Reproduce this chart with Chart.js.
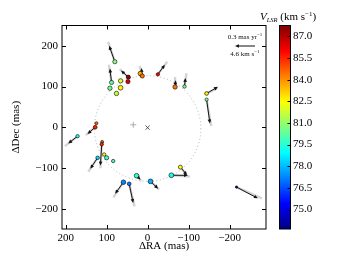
<!DOCTYPE html>
<html>
<head>
<meta charset="utf-8">
<script src="https://cdn.jsdelivr.net/npm/chart.js@4.4.1/dist/chart.umd.min.js"></script>
<style>
  html, body { margin: 0; padding: 0; background: #fff; }
  canvas { display: block; }
</style>
</head>
<body>
<canvas id="myChart" width="357" height="255"></canvas>
<script>
// maser spots: offsets (mas), VLSR (km/s), marker radius
const ra      = [80, 47, 48, 66, 66, 92, 88, 76, 18, 13, -25, -67, -90, -144, -144, 125, 128, 171, 111, 112, 106, 122, 100, 84, 27, 59, 45, -7, -58, -80, -217]
const dec     = [161, 123, 112, 114, 97, 96, 110, 83, 132, 126, 130, 99, 100, 83, 68, 10, 0, -22, -36, -42, -67, -75, -75, -83, -119, -135, -139, -133, -118, -98, -147]
const vlsr    = [80.8, 87.5, 86.3, 82.0, 82.6, 80.5, 80.2, 81.7, 83.6, 84.4, 86.0, 84.3, 80.5, 82.7, 80.6, 84.6, 85.6, 79.3, 84.8, 85.5, 82.6, 78.4, 79.8, 80.0, 79.6, 77.3, 77.1, 77.8, 79.2, 82.4, 74.0]
const spotSize = [2.1, 2.1, 2.1, 2.2, 2.4, 2.2, 2.1, 2.2, 2.2, 2.1, 1.7, 2.2, 1.7, 1.9, 1.6, 1.5, 1.9, 1.7, 1.5, 1.7, 1.7, 1.8, 2.1, 1.7, 2.3, 2.3, 1.9, 2.4, 2.4, 2.0, 1.2]

// measured proper motions (mas/yr), null = none
const pmRA  = [0.085, 0.11, null, null, null, null, 0.025, null, null, 0.015, -0.105, -0.01, -0.015, -0.17, -0.05, null, 0.115, 0.14, null, 0.02, null, 0.11, null, null, -0.06, 0.125, -0.06, -0.115, -0.25, -0.10, -0.32]
const pmDec = [0.24, 0.10, null, null, null, null, 0.21, null, null, 0.12, 0.145, 0.10, 0.13, 0.10, -0.36, null, -0.10, -0.11, null, -0.32, null, -0.165, null, null, -0.06, -0.175, -0.29, -0.11, 0.0, -0.12, -0.17]

// model motions (grey)
const modelRA  = [0.10, 0.13, null, null, null, null, 0.04, null, null, 0.04, -0.14, 0.0, -0.03, -0.16, -0.07, null, 0.14, 0.19, null, 0.02, null, 0.14, null, null, -0.07, 0.15, -0.08, -0.13, -0.28, -0.09, -0.38]
const modelDec = [0.30, 0.12, null, null, null, null, 0.27, null, null, 0.15, 0.19, 0.15, 0.20, 0.08, -0.40, null, -0.12, -0.15, null, -0.36, null, -0.21, null, null, -0.08, -0.23, -0.34, -0.12, -0.02, -0.11, -0.17]

const pmScale = 163          // mas of plot per mas/yr
const refPM = 0.3            // legend arrow, mas/yr
const refPMLabel = '0.3 mas yr'
const refVelLabel = '4.6 km s'

const ringCenter = [0, -3]
const ringRadius = 130
const plusMark = [35, 6]
const crossMark = [0, -1]

const raTicks = [200, 100, 0, -100, -200]
const decTicks = [-200, -100, 0, 100, 200]
const cbarTicks = [75.0, 76.5, 78.0, 79.5, 81.0, 82.5, 84.0, 85.5, 87.0]
const cbarMin = 73.65
const cbarMax = 87.75

const serif = "'Liberation Serif', 'DejaVu Serif', serif"

const jet = (v) => {
    const t = Math.min(1, Math.max(0, (v - cbarMin) / (cbarMax - cbarMin)))
    const c = (u) => Math.round(255 * Math.min(1, Math.max(0, 1.5 - Math.abs(u))))
    return `rgb(${c(4 * t - 3)},${c(4 * t - 2)},${c(4 * t - 1)})`
}

const minus = (v) => v < 0 ? '\u2212' + Math.abs(v) : String(v)

const drawArrow = (ctx, x0, y0, x1, y1, color, width, head) => {
    const ang = Math.atan2(y1 - y0, x1 - x0)
    const len = Math.hypot(x1 - x0, y1 - y0)
    const shaft = head ? Math.max(0, len - head * 0.8) : len
    ctx.strokeStyle = color
    ctx.fillStyle = color
    ctx.lineWidth = width
    ctx.beginPath()
    ctx.moveTo(x0, y0)
    ctx.lineTo(x0 + Math.cos(ang) * shaft, y0 + Math.sin(ang) * shaft)
    ctx.stroke()
    if (head) {
        ctx.beginPath()
        ctx.moveTo(x1, y1)
        ctx.lineTo(x1 - head * Math.cos(ang) + head * 0.45 * Math.sin(ang), y1 - head * Math.sin(ang) - head * 0.45 * Math.cos(ang))
        ctx.lineTo(x1 - head * Math.cos(ang) - head * 0.45 * Math.sin(ang), y1 - head * Math.sin(ang) + head * 0.45 * Math.cos(ang))
        ctx.closePath()
        ctx.fill()
    }
}

const drawRich = (ctx, parts, cx, y) => {
    let total = 0
    parts.forEach(p => { ctx.font = p.font; p.w = ctx.measureText(p.t).width; total += p.w })
    let x = cx - total / 2
    ctx.textAlign = 'left'
    ctx.textBaseline = 'alphabetic'
    parts.forEach(p => {
        ctx.font = p.font
        ctx.fillText(p.t, x, y + (p.dy || 0))
        x += p.w
    })
}

const overlay = {
    id: 'overlay',
    beforeDatasetsDraw(chart) {
        const { ctx, chartArea: a, scales: { x, y } } = chart
        ctx.save()
        ctx.beginPath()
        ctx.rect(a.left, a.top, a.right - a.left, a.bottom - a.top)
        ctx.clip()

        // fitted ring
        const cx = x.getPixelForValue(ringCenter[0])
        const cy = y.getPixelForValue(ringCenter[1])
        const rx = Math.abs(x.getPixelForValue(ringCenter[0] + ringRadius) - cx)
        const ry = Math.abs(y.getPixelForValue(ringCenter[1] + ringRadius) - cy)
        ctx.setLineDash([1, 2.5])
        ctx.strokeStyle = '#aaaaaa'
        ctx.lineWidth = 0.9
        ctx.beginPath()
        ctx.ellipse(cx, cy, rx, ry, 0, 0, 2 * Math.PI)
        ctx.stroke()
        ctx.setLineDash([])

        ra.forEach((r, i) => {
            if (modelRA[i] === null) return
            drawArrow(ctx, x.getPixelForValue(r), y.getPixelForValue(dec[i]),
                x.getPixelForValue(r + modelRA[i] * pmScale), y.getPixelForValue(dec[i] + modelDec[i] * pmScale),
                'rgba(205,205,205,0.85)', 2.4, 0)
        })
        ra.forEach((r, i) => {
            if (pmRA[i] === null) return
            drawArrow(ctx, x.getPixelForValue(r), y.getPixelForValue(dec[i]),
                x.getPixelForValue(r + pmRA[i] * pmScale), y.getPixelForValue(dec[i] + pmDec[i] * pmScale),
                '#111', 1, 4)
        })
        ctx.restore()
    },
    afterDraw(chart) {
        const { ctx, chartArea: a, scales: { x, y } } = chart
        ctx.save()

        // frame and inward ticks
        ctx.strokeStyle = '#000'
        ctx.lineWidth = 1
        ctx.strokeRect(a.left, a.top, a.right - a.left, a.bottom - a.top)
        ctx.beginPath()
        raTicks.forEach(v => {
            const px = Math.round(x.getPixelForValue(v)) + 0.5
            ctx.moveTo(px, a.bottom); ctx.lineTo(px, a.bottom - 4)
            ctx.moveTo(px, a.top); ctx.lineTo(px, a.top + 4)
        })
        decTicks.forEach(v => {
            const py = Math.round(y.getPixelForValue(v)) + 0.5
            ctx.moveTo(a.left, py); ctx.lineTo(a.left + 4, py)
            ctx.moveTo(a.right, py); ctx.lineTo(a.right - 4, py)
        })
        ctx.stroke()

        // legend arrow
        const refLen = Math.abs(x.getPixelForValue(0) - x.getPixelForValue(refPM * pmScale))
        const tail = a.right - 11
        const ay = a.top + 20.5
        drawArrow(ctx, tail, ay, tail - refLen, ay, '#111', 1, 4)
        ctx.fillStyle = '#111'
        const mid = tail - refLen / 2
        drawRich(ctx, [{ t: refPMLabel, font: `7px ${serif}` }, { t: '\u22121', font: `5px ${serif}`, dy: -3 }], mid, ay - 7.5)
        drawRich(ctx, [{ t: refVelLabel, font: `7px ${serif}` }, { t: '\u22121', font: `5px ${serif}`, dy: -3 }], mid, ay + 10)

        // colour bar
        const cbL = 279.5, cbW = 11
        const grad = ctx.createLinearGradient(0, a.bottom, 0, a.top)
        for (let k = 0; k <= 40; k++) {
            grad.addColorStop(k / 40, jet(cbarMin + (cbarMax - cbarMin) * k / 40))
        }
        ctx.fillStyle = grad
        ctx.fillRect(cbL, a.top, cbW, a.bottom - a.top)
        ctx.strokeStyle = '#000'
        ctx.strokeRect(cbL, a.top, cbW, a.bottom - a.top)
        ctx.fillStyle = '#000'
        ctx.font = `11px ${serif}`
        ctx.textAlign = 'left'
        ctx.textBaseline = 'middle'
        ctx.beginPath()
        cbarTicks.forEach(v => {
            const py = a.bottom - (v - cbarMin) / (cbarMax - cbarMin) * (a.bottom - a.top)
            ctx.fillText(v.toFixed(1), cbL + cbW + 2.5, py)
            ctx.moveTo(cbL + cbW, Math.round(py) + 0.5)
            ctx.lineTo(cbL + cbW - 3, Math.round(py) + 0.5)
        })
        ctx.stroke()
        drawRich(ctx, [
            { t: 'V', font: `italic 11px ${serif}` },
            { t: 'LSR', font: `italic 6.5px ${serif}`, dy: 2 },
            { t: ' (km s', font: `11px ${serif}` },
            { t: '\u22121', font: `7px ${serif}`, dy: -4 },
            { t: ')', font: `11px ${serif}` }
        ], 288, 19.5)

        ctx.restore()
    }
}

const spots = ra.map((r, i) => ({ x: r, y: dec[i] }))

const config = {
    type: 'scatter',
    data: {
        datasets: [
            {
                data: spots,
                backgroundColor: vlsr.map(jet),
                borderColor: '#000',
                borderWidth: 0.6,
                pointRadius: spotSize
            },
            {
                data: [{ x: plusMark[0], y: plusMark[1] }],
                pointStyle: 'cross',
                pointRadius: 3,
                borderColor: '#999',
                borderWidth: 0.8
            },
            {
                data: [{ x: crossMark[0], y: crossMark[1] }],
                pointStyle: 'crossRot',
                pointRadius: 3,
                borderColor: '#333',
                borderWidth: 0.8
            }
        ]
    },
    options: {
        responsive: false,
        devicePixelRatio: 1,
        animation: false,
        events: [],
        layout: { padding: { left: 10, right: 91, top: 25.5, bottom: 2 } },
        plugins: { legend: { display: false }, tooltip: { enabled: false } },
        scales: {
            x: {
                type: 'linear',
                reverse: true,
                min: -289,
                max: 209,
                grid: { display: false, drawTicks: false },
                border: { display: false },
                afterBuildTicks: s => { s.ticks = raTicks.map(v => ({ value: v })) },
                afterFit: s => { s.height = 24 },
                ticks: { color: '#000', font: { family: serif, size: 11 }, padding: 3, callback: minus, maxRotation: 0 },
                title: { display: true, text: '\u0394RA (mas)', color: '#000', font: { family: serif, size: 11 }, padding: 0 }
            },
            y: {
                type: 'linear',
                min: -250,
                max: 250,
                grid: { display: false, drawTicks: false },
                border: { display: false },
                afterBuildTicks: s => { s.ticks = decTicks.map(v => ({ value: v })) },
                afterFit: s => { s.width = 52 },
                ticks: { color: '#000', font: { family: serif, size: 11 }, padding: 4, callback: minus },
                title: { display: true, text: '\u0394Dec (mas)', color: '#000', font: { family: serif, size: 11 }, padding: 0 }
            }
        }
    },
    plugins: [overlay]
}

new Chart(document.getElementById('myChart'), config)
</script>
</body>
</html>
